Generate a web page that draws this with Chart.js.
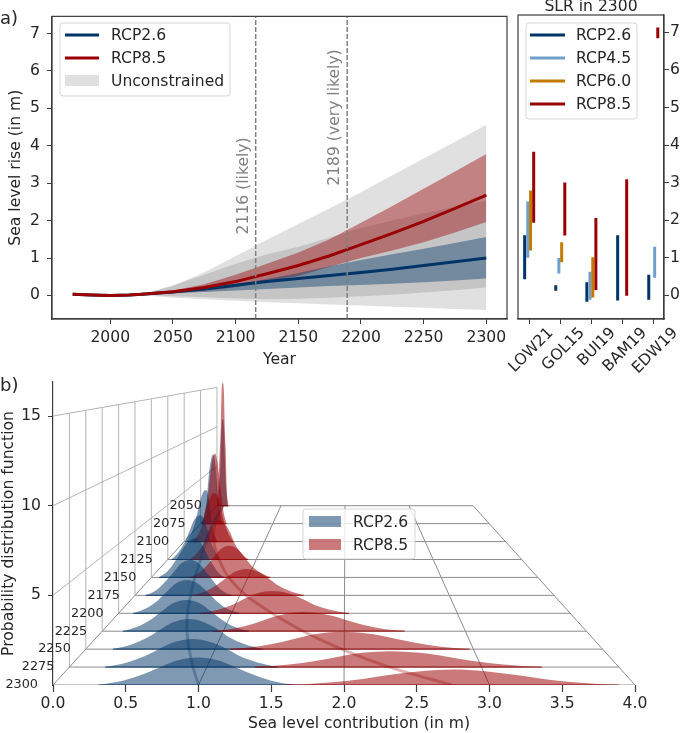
<!DOCTYPE html>
<html>
<head>
<meta charset="utf-8">
<title>Sea level rise</title>
<script src="https://cdn.jsdelivr.net/npm/chart.js@4"></script>
<style>
    html, body { margin: 0; background: #fff; }
    #page { position: relative; width: 685px; height: 733px; overflow: hidden; font-family: "DejaVu Sans", sans-serif; color: #262626; }
    #page canvas { position: absolute; left: 0; top: 0; }
    .note { position: absolute; white-space: nowrap; }
</style>
</head>
<body>
<div id="page">
    <canvas id="panelB" width="685" height="733"></canvas>
    <canvas id="panelA" width="685" height="733"></canvas>
    <canvas id="panelSlr" width="685" height="733"></canvas>
    <div class="note" style="left:0;top:7px;font-size:18px">a)</div>
    <div class="note" style="left:0;top:374px;font-size:18px">b)</div>
    <div class="note" style="left:531px;top:-3px;width:120px;text-align:center;font-size:15.6px">SLR in 2300</div>
    <div class="note" style="left:248px;top:714px;font-size:15.6px">Sea level contribution (in m)</div>
</div>

<script>
// ============================================
// Panel a: projections
// ============================================
const years = [1970, 1985, 2000, 2015, 2025, 2050, 2075, 2100, 2125, 2150, 2175, 2200, 2225, 2250, 2275, 2300];
const meanRcp26 = [0.03, 0.01, 0, 0.01, 0.03, 0.09, 0.17, 0.27, 0.37, 0.45, 0.53, 0.61, 0.70, 0.80, 0.90, 1.00];
const meanRcp85 = [0.03, 0.01, 0, 0.01, 0.03, 0.10, 0.21, 0.37, 0.58, 0.80, 1.06, 1.36, 1.66, 1.98, 2.33, 2.68];

const bandYears = [2025, 2050, 2075, 2100, 2125, 2150, 2175, 2200, 2225, 2250, 2275, 2300];
const upperRcp26 = [0.03, 0.11, 0.19, 0.30, 0.44, 0.60, 0.78, 0.95, 1.10, 1.25, 1.40, 1.56];
const lowerRcp26 = [0.03, 0.06, 0.09, 0.13, 0.17, 0.21, 0.25, 0.28, 0.31, 0.35, 0.40, 0.45];
const upperRcp85 = [0.03, 0.13, 0.30, 0.55, 0.85, 1.15, 1.50, 1.94, 2.39, 2.85, 3.31, 3.78];
const lowerRcp85 = [0.03, 0.07, 0.12, 0.22, 0.38, 0.52, 0.77, 1.00, 1.20, 1.42, 1.68, 1.96];
const upperFree26 = [0.03, 0.27, 0.55, 0.85, 1.10, 1.30, 1.55, 1.80, 2.00, 2.20, 2.37, 2.53];
const lowerFree26 = [0.01, -0.06, -0.10, -0.14, -0.18, -0.21, -0.24, -0.27, -0.30, -0.33, -0.36, -0.39];
const upperFree85 = [0.03, 0.25, 0.62, 1.05, 1.49, 1.91, 2.33, 2.76, 3.21, 3.66, 4.11, 4.56];
const lowerFree85 = [0.02, -0.02, -0.05, -0.08, -0.10, -0.09, -0.06, -0.02, 0.02, 0.08, 0.14, 0.21];

const markerYears = [2116, 2189];
const markerLabels = ['2116 (likely)', '2189 (very likely)'];
const markerLabelBase = [1.63, 2.93];

const yearTicks = [2000, 2050, 2100, 2150, 2200, 2250, 2300];
const slrTicks = [0, 1, 2, 3, 4, 5, 6, 7];

// ============================================
// Panel a, right: SLR in 2300 by study
// ============================================
const studies = ['LOW21', 'GOL15', 'BUI19', 'BAM19', 'EDW19'];
const lowStudy26 = [0.43, 0.12, -0.17, -0.14, -0.12];
const highStudy26 = [1.60, 0.27, 0.35, 1.60, 0.55];
const lowStudy45 = [1.00, 0.58, -0.12, null, 0.47];
const highStudy45 = [2.50, 0.99, 0.63, null, 1.29];
const lowStudy60 = [1.19, 0.88, -0.06, null, null];
const highStudy60 = [2.79, 1.41, 1.01, null, null];
const lowStudy85 = [1.93, 1.59, 0.14, -0.01, 6.84];
const highStudy85 = [3.82, 3.00, 2.06, 3.09, 7.13];

// ============================================
// Panel b: pdf per year, back row first
// ============================================
const ridgeYears = [2050, 2075, 2100, 2125, 2150, 2175, 2200, 2225, 2250, 2275, 2300];

const ridgeX26 = [
    [0.01, 0.03, 0.05, 0.06, 0.07, 0.09, 0.11, 0.12, 0.13, 0.15, 0.17],
    [0.02, 0.06, 0.09, 0.11, 0.14, 0.17, 0.20, 0.22, 0.24, 0.27, 0.30],
    [0.03, 0.09, 0.14, 0.18, 0.22, 0.27, 0.30, 0.32, 0.34, 0.37, 0.41],
    [0.04, 0.12, 0.19, 0.25, 0.30, 0.37, 0.41, 0.45, 0.49, 0.54, 0.59],
    [0.08, 0.17, 0.24, 0.31, 0.38, 0.45, 0.51, 0.56, 0.62, 0.68, 0.75],
    [0.10, 0.21, 0.29, 0.37, 0.44, 0.53, 0.61, 0.68, 0.75, 0.82, 0.92],
    [0.13, 0.25, 0.35, 0.43, 0.51, 0.61, 0.70, 0.78, 0.86, 0.95, 1.07],
    [0.17, 0.30, 0.41, 0.50, 0.59, 0.70, 0.80, 0.89, 0.98, 1.08, 1.21],
    [0.21, 0.36, 0.48, 0.58, 0.68, 0.80, 0.91, 1.02, 1.11, 1.23, 1.37],
    [0.26, 0.42, 0.55, 0.66, 0.77, 0.90, 1.02, 1.14, 1.24, 1.37, 1.52],
    [0.31, 0.48, 0.62, 0.74, 0.86, 1.00, 1.13, 1.25, 1.37, 1.50, 1.66]
];
const ridgePdf26 = [
    [0, 1.76, 4.29, 7.26, 9.90, 11.0, 9.90, 7.26, 4.29, 1.76, 0],
    [0, 1.24, 3.03, 5.13, 6.99, 7.77, 6.99, 5.13, 3.03, 1.24, 0],
    [0, 0.83, 2.03, 3.43, 4.68, 5.20, 4.68, 3.43, 2.03, 0.83, 0],
    [0, 0.65, 1.59, 2.69, 3.66, 4.07, 3.66, 2.69, 1.59, 0.65, 0],
    [0, 0.53, 1.29, 2.18, 2.97, 3.30, 2.97, 2.18, 1.29, 0.53, 0],
    [0, 0.44, 1.07, 1.81, 2.47, 2.74, 2.47, 1.81, 1.07, 0.44, 0],
    [0, 0.38, 0.94, 1.58, 2.16, 2.40, 2.16, 1.58, 0.94, 0.38, 0],
    [0, 0.34, 0.82, 1.39, 1.89, 2.10, 1.89, 1.39, 0.82, 0.34, 0],
    [0, 0.30, 0.74, 1.25, 1.70, 1.89, 1.70, 1.25, 0.74, 0.30, 0],
    [0, 0.27, 0.65, 1.10, 1.49, 1.66, 1.49, 1.10, 0.65, 0.27, 0],
    [0, 0.24, 0.60, 1.01, 1.38, 1.53, 1.38, 1.01, 0.60, 0.24, 0]
];
const ridgeX85 = [
    [0.00, 0.02, 0.04, 0.06, 0.07, 0.09, 0.11, 0.12, 0.14, 0.15, 0.18],
    [0.01, 0.06, 0.10, 0.13, 0.16, 0.20, 0.23, 0.26, 0.29, 0.32, 0.36],
    [0.11, 0.18, 0.23, 0.27, 0.32, 0.37, 0.42, 0.46, 0.50, 0.55, 0.61],
    [0.25, 0.33, 0.40, 0.45, 0.51, 0.58, 0.65, 0.71, 0.76, 0.83, 0.91],
    [0.40, 0.50, 0.58, 0.65, 0.72, 0.80, 0.89, 0.96, 1.03, 1.12, 1.23],
    [0.56, 0.68, 0.78, 0.87, 0.96, 1.06, 1.17, 1.27, 1.36, 1.48, 1.61],
    [0.72, 0.88, 1.01, 1.12, 1.23, 1.36, 1.50, 1.62, 1.73, 1.87, 2.04],
    [0.91, 1.10, 1.25, 1.37, 1.51, 1.66, 1.83, 1.98, 2.12, 2.29, 2.50],
    [1.12, 1.33, 1.51, 1.65, 1.81, 1.98, 2.18, 2.36, 2.53, 2.73, 2.97],
    [1.35, 1.60, 1.79, 1.96, 2.13, 2.33, 2.55, 2.75, 2.94, 3.16, 3.44],
    [1.60, 1.90, 2.13, 2.32, 2.53, 2.75, 2.97, 3.17, 3.37, 3.60, 3.89]
];
const ridgePdf85 = [
    [0, 2.50, 6.08, 10.3, 14.04, 15.6, 14.04, 10.3, 6.08, 2.50, 0],
    [0, 1.26, 3.08, 5.21, 7.11, 7.90, 7.11, 5.21, 3.08, 1.26, 0],
    [0, 0.78, 1.91, 3.23, 4.41, 4.90, 4.41, 3.23, 1.91, 0.78, 0],
    [0, 0.58, 1.40, 2.38, 3.24, 3.60, 3.24, 2.38, 1.40, 0.58, 0],
    [0, 0.43, 1.04, 1.76, 2.39, 2.66, 2.39, 1.76, 1.04, 0.43, 0],
    [0, 0.33, 0.80, 1.35, 1.84, 2.04, 1.84, 1.35, 0.80, 0.33, 0],
    [0, 0.26, 0.62, 1.06, 1.44, 1.60, 1.44, 1.06, 0.62, 0.26, 0],
    [0, 0.20, 0.50, 0.84, 1.15, 1.28, 1.15, 0.84, 0.50, 0.20, 0],
    [0, 0.17, 0.43, 0.72, 0.98, 1.09, 0.98, 0.72, 0.43, 0.17, 0],
    [0, 0.15, 0.36, 0.61, 0.84, 0.93, 0.84, 0.61, 0.36, 0.15, 0],
    [0, 0.14, 0.34, 0.57, 0.77, 0.86, 0.77, 0.57, 0.34, 0.14, 0]
];
const ridgeMean26 = [0.09, 0.17, 0.27, 0.37, 0.45, 0.53, 0.61, 0.70, 0.80, 0.90, 1.00];
const ridgeMean85 = [0.09, 0.20, 0.37, 0.58, 0.80, 1.06, 1.36, 1.66, 1.98, 2.33, 2.74];

const contributionTicks = [0, 0.5, 1, 1.5, 2, 2.5, 3, 3.5, 4];
const pdfTicks = [5, 10, 15];
const floorLines = [0, 1, 2, 3, 4];

// ============================================
// Styles and helpers
// ============================================
const COLOR_26 = '#003466';
const COLOR_45 = '#709fcc';
const COLOR_60 = '#c47900';
const COLOR_85 = '#990002';
const FILL_26 = 'rgba(0, 52, 102, 0.5)';
const FILL_85 = 'rgba(153, 0, 2, 0.52)';
const BAND_26 = 'rgba(0, 52, 102, 0.42)';
const BAND_85 = 'rgba(153, 0, 2, 0.42)';
const FILL_FREE = 'rgba(0, 0, 0, 0.12)';
const TEXT = '#262626';
const SPINE = '#3c3c3c';
const FONT = '"DejaVu Sans", sans-serif';
const LABEL_SIZE = 15.6;

// perspective of panel b: each row further back shrinks and slides right
const SHRINK = 0.056;
const SLIDE = 0.1127;

function project(x, pdf, depth) {
    const s = 1 - SHRINK * depth;
    return { x: x * s + SLIDE * depth, y: pdf * s + depth };
}

function xy(xs, ys) {
    return xs.map((x, i) => ({ x: x, y: ys[i] }));
}

function curve(label, data, color, width, order) {
    return { label, data, borderColor: color, borderWidth: width, pointRadius: 0, fill: false, order };
}

function band(upper, lower, color, order) {
    return [
        { data: xy(bandYears, upper), borderWidth: 0, pointRadius: 0, backgroundColor: color, fill: '+1', order },
        { data: xy(bandYears, lower), borderWidth: 0, pointRadius: 0, fill: false, order }
    ];
}

function setupAxis(options) {
    return Object.assign({
        type: 'linear',
        border: { color: SPINE, width: 1.2 },
        grid: { drawOnChartArea: false, color: SPINE, tickLength: 5, tickWidth: 1 }
    }, options);
}

function useTicks(values) {
    return (scale) => { scale.ticks = values.map(v => ({ value: v })); };
}

// matplotlib style legend placed inside the axes
function boxLegend(box, items) {
    return {
        id: 'boxLegend',
        afterDraw(chart) {
            const ctx = chart.ctx;
            ctx.save();
            ctx.beginPath();
            ctx.roundRect(box.x, box.y, box.w, box.h, 3);
            ctx.fillStyle = 'rgba(255, 255, 255, 0.8)';
            ctx.fill();
            ctx.strokeStyle = 'rgba(204, 204, 204, 0.8)';
            ctx.lineWidth = 1;
            ctx.stroke();
            items.forEach((item, i) => {
                const rowY = box.rowY + i * box.rowGap;
                if (item.patch) {
                    ctx.fillStyle = item.patch;
                    ctx.fillRect(box.x + box.keyX, rowY - 6, box.keyW, 11);
                } else {
                    ctx.strokeStyle = item.line;
                    ctx.lineWidth = 3;
                    ctx.beginPath();
                    ctx.moveTo(box.x + box.keyX, rowY);
                    ctx.lineTo(box.x + box.keyX + box.keyW, rowY);
                    ctx.stroke();
                }
                ctx.fillStyle = TEXT;
                ctx.font = LABEL_SIZE + 'px ' + FONT;
                ctx.textAlign = 'left';
                ctx.textBaseline = 'middle';
                ctx.fillText(item.label, box.x + box.textX, rowY + 1);
            });
            ctx.restore();
        }
    };
}

const frame = {
    id: 'frame',
    afterDatasetsDraw(chart) {
        const a = chart.chartArea;
        chart.ctx.save();
        chart.ctx.strokeStyle = SPINE;
        chart.ctx.lineWidth = 1.2;
        chart.ctx.strokeRect(a.left, a.top, a.right - a.left, a.bottom - a.top);
        chart.ctx.restore();
    }
};

// ============================================
// Panel a chart
// ============================================
const markerSets = markerYears.map(year => {
    const set = curve(String(year), [{ x: year, y: -0.63 }, { x: year, y: 7.46 }], '#808080', 1.5, 0);
    set.borderDash = [5, 2];
    return set;
});

const markerText = {
    id: 'markerText',
    afterDatasetsDraw(chart) {
        const ctx = chart.ctx;
        markerYears.forEach((year, i) => {
            ctx.save();
            ctx.translate(chart.scales.x.getPixelForValue(year) - 12, chart.scales.y.getPixelForValue(markerLabelBase[i]));
            ctx.rotate(-Math.PI / 2);
            ctx.fillStyle = '#808080';
            ctx.font = LABEL_SIZE + 'px ' + FONT;
            ctx.textAlign = 'left';
            ctx.textBaseline = 'middle';
            ctx.fillText(markerLabels[i], 0, 0);
            ctx.restore();
        });
    }
};

new Chart(document.getElementById('panelA'), {
    type: 'line',
    data: {
        datasets: [
            curve('RCP8.5', xy(years, meanRcp85), COLOR_85, 3, 1),
            curve('RCP2.6', xy(years, meanRcp26), COLOR_26, 3, 2),
            ...markerSets,
            ...band(upperRcp26, lowerRcp26, BAND_26, 4),
            ...band(upperRcp85, lowerRcp85, BAND_85, 5),
            ...band(upperFree85, lowerFree85, FILL_FREE, 6),
            ...band(upperFree26, lowerFree26, FILL_FREE, 7)
        ]
    },
    options: {
        responsive: false,
        animation: false,
        devicePixelRatio: 1,
        layout: { padding: { left: 0, top: 15, right: 178, bottom: 364 } },
        plugins: { legend: { display: false }, tooltip: { enabled: false } },
        scales: {
            x: setupAxis({
                min: 1953.5,
                max: 2316.5,
                afterBuildTicks: useTicks(yearTicks),
                afterFit: s => { s.height = 50; },
                ticks: { autoSkip: false, maxRotation: 0, color: TEXT, padding: 5, font: { size: LABEL_SIZE, family: FONT }, callback: v => String(v) },
                title: { display: true, text: 'Year', color: TEXT, padding: { top: 0, bottom: 0 }, font: { size: LABEL_SIZE, family: FONT } }
            }),
            y: setupAxis({
                min: -0.63,
                max: 7.46,
                afterBuildTicks: useTicks(slrTicks),
                afterFit: s => { s.width = 52; },
                ticks: { autoSkip: false, color: TEXT, padding: 7, font: { size: LABEL_SIZE, family: FONT } },
                title: { display: true, text: 'Sea level rise (in m)', color: TEXT, padding: { top: 7, bottom: 0 }, font: { size: LABEL_SIZE, family: FONT } }
            })
        }
    },
    plugins: [frame, markerText, boxLegend(
        { x: 60, y: 23, w: 170, h: 73, rowY: 35, rowGap: 23, keyX: 5, keyW: 34, textX: 51 },
        [
            { line: COLOR_26, label: 'RCP2.6' },
            { line: COLOR_85, label: 'RCP8.5' },
            { patch: FILL_FREE, label: 'Unconstrained' }
        ]
    )]
});

// ============================================
// Study ranges chart
// ============================================
function studySegments(lows, highs, offsets) {
    const points = [];
    studies.forEach((name, i) => {
        if (lows[i] === null) return;
        points.push({ x: i + offsets[i], y: lows[i] });
        points.push({ x: i + offsets[i], y: highs[i] });
        points.push({ x: i + offsets[i], y: null });
    });
    return points;
}

new Chart(document.getElementById('panelSlr'), {
    type: 'line',
    data: {
        datasets: [
            curve('RCP2.6', studySegments(lowStudy26, highStudy26, [-0.14, -0.14, -0.14, -0.15, -0.15]), COLOR_26, 3, 4),
            curve('RCP4.5', studySegments(lowStudy45, highStudy45, [-0.04, -0.04, -0.04, -0.04, 0.04]), COLOR_45, 3, 3),
            curve('RCP6.0', studySegments(lowStudy60, highStudy60, [0.05, 0.05, 0.05, 0.05, 0.05]), COLOR_60, 3, 2),
            curve('RCP8.5', studySegments(lowStudy85, highStudy85, [0.15, 0.15, 0.15, 0.14, 0.14]), COLOR_85, 3, 1)
        ]
    },
    options: {
        responsive: false,
        animation: false,
        devicePixelRatio: 1,
        layout: { padding: { left: 518, top: 15, right: 0, bottom: 344 } },
        plugins: { legend: { display: false }, tooltip: { enabled: false } },
        scales: {
            x: setupAxis({
                min: -0.354,
                max: 4.34,
                afterBuildTicks: useTicks(studies.map((name, i) => i)),
                afterFit: s => { s.height = 70; },
                ticks: { autoSkip: false, minRotation: 45, maxRotation: 45, labelOffset: 22, color: TEXT, padding: 0, font: { size: LABEL_SIZE, family: FONT }, callback: v => studies[v] }
            }),
            y: setupAxis({
                position: 'right',
                min: -0.63,
                max: 7.46,
                afterBuildTicks: useTicks(slrTicks),
                afterFit: s => { s.width = 21; },
                ticks: { autoSkip: false, color: TEXT, padding: 1, font: { size: LABEL_SIZE, family: FONT } }
            })
        }
    },
    plugins: [frame, boxLegend(
        { x: 526, y: 23, w: 111, h: 96, rowY: 35, rowGap: 23, keyX: 4, keyW: 35, textX: 50 },
        [
            { line: COLOR_26, label: 'RCP2.6' },
            { line: COLOR_45, label: 'RCP4.5' },
            { line: COLOR_60, label: 'RCP6.0' },
            { line: COLOR_85, label: 'RCP8.5' }
        ]
    )]
});

// ============================================
// Panel b chart
// ============================================
const BACK_ROW = ridgeYears.length - 1;
const depthOf = i => BACK_ROW - i;

function gridLine(from, to, color) {
    return curve('', [from, to], color, 1, 1000);
}

const gridSets = [];
ridgeYears.forEach((year, i) => {
    const depth = depthOf(i);
    gridSets.push(gridLine(project(0, 0, depth), project(4, 0, depth), '#8c8c8c'));
    if (depth > 0) gridSets.push(gridLine(project(0, 0, depth), project(0, 15, depth), '#b4b4b4'));
});
floorLines.forEach(x => gridSets.push(gridLine(project(x, 0, 0), project(x, 0, BACK_ROW), '#8c8c8c')));
pdfTicks.forEach(p => gridSets.push(gridLine(project(0, p, 0), project(0, p, BACK_ROW), '#b4b4b4')));

function ridgeSets(xRows, pdfRows, fillColor, baseColor, layer) {
    const sets = [];
    xRows.forEach((xs, i) => {
        const depth = depthOf(i);
        const points = xs.map((x, j) => project(x, pdfRows[i][j], depth));
        sets.push({
            data: points,
            borderWidth: 0,
            pointRadius: 0,
            backgroundColor: fillColor,
            cubicInterpolationMode: 'monotone',
            fill: { value: depth },
            order: 100 + depth * 4 + layer
        });
        sets.push(curve('', [points[0], points[points.length - 1]], baseColor, 1.2, 100 + depth * 4 + layer));
    });
    return sets;
}

function meanLine(means, color) {
    const set = curve('', means.map((m, i) => project(m, 0, depthOf(i))), color, 3, 1);
    set.tension = 0.3;
    return set;
}

const yearLabels = {
    id: 'yearLabels',
    afterDatasetsDraw(chart) {
        const ctx = chart.ctx;
        ctx.save();
        ctx.fillStyle = TEXT;
        ctx.font = '12.8px ' + FONT;
        ctx.textAlign = 'right';
        ctx.textBaseline = 'middle';
        ridgeYears.forEach((year, i) => {
            const p = project(0, 0, depthOf(i));
            ctx.fillText(String(year), chart.scales.x.getPixelForValue(p.x) - 15, chart.scales.y.getPixelForValue(p.y));
        });
        ctx.restore();
    }
};

new Chart(document.getElementById('panelB'), {
    type: 'line',
    data: {
        datasets: [
            meanLine(ridgeMean85, 'rgba(153, 0, 2, 0.3)'),
            meanLine(ridgeMean26, 'rgba(0, 52, 102, 0.3)'),
            ...ridgeSets(ridgeX85, ridgePdf85, FILL_85, 'rgba(153, 0, 2, 0.7)', 0),
            ...ridgeSets(ridgeX26, ridgePdf26, FILL_26, 'rgba(0, 52, 102, 0.7)', 2),
            ...gridSets
        ]
    },
    options: {
        responsive: false,
        animation: false,
        devicePixelRatio: 1,
        layout: { padding: { left: 0, top: 382, right: 50, bottom: 0 } },
        plugins: { legend: { display: false }, tooltip: { enabled: false } },
        scales: {
            x: setupAxis({
                min: 0,
                max: 4,
                border: { display: false },
                grid: { drawOnChartArea: false, color: SPINE, tickLength: 7, tickWidth: 1.2 },
                afterBuildTicks: useTicks(contributionTicks),
                afterFit: s => { s.height = 48; },
                ticks: { autoSkip: false, maxRotation: 0, color: TEXT, padding: 3, font: { size: LABEL_SIZE, family: FONT }, callback: v => v.toFixed(1) }
            }),
            y: setupAxis({
                min: 0,
                max: 16.9,
                afterBuildTicks: useTicks(pdfTicks),
                afterFit: s => { s.width = 53; },
                ticks: { autoSkip: false, color: TEXT, padding: 7, font: { size: LABEL_SIZE, family: FONT } },
                title: { display: true, text: 'Probability distribution function', color: TEXT, padding: { top: 0, bottom: 0 }, font: { size: LABEL_SIZE, family: FONT } }
            })
        }
    },
    plugins: [yearLabels, boxLegend(
        { x: 303, y: 509, w: 112, h: 50, rowY: 522, rowGap: 23, keyX: 6, keyW: 32, textX: 50 },
        [
            { patch: FILL_26, label: 'RCP2.6' },
            { patch: FILL_85, label: 'RCP8.5' }
        ]
    )]
});
</script>
</body>
</html>
